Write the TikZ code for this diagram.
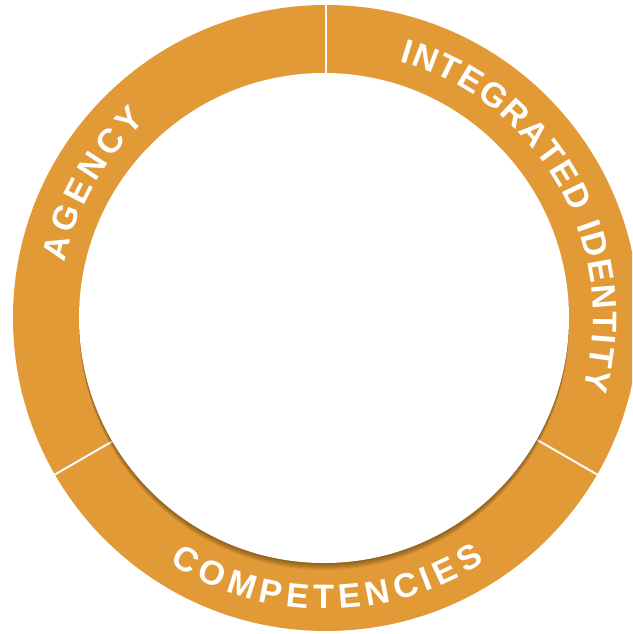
\documentclass[tikz,border=0pt]{standalone}
\usepackage{fontspec}
\setmainfont{Liberation Sans}
\newfontfamily\ringfont{Liberation Sans Bold}
\usetikzlibrary{decorations.text}
\definecolor{ringorange}{RGB}{226,154,54}
\begin{document}
\begin{tikzpicture}[x=1pt,y=1pt,
  ringtext/.style={decorate, decoration={text along path, text align={fit to path}, text color=white,
     text={|\ringfont\fontsize{34}{34}\selectfont|#1}}},
  divider/.style={draw=white!95!gray, line width=2pt}]
\useasboundingbox (-326,-316) rectangle (306,318);
\clip (-326,-316) rectangle (306,318);
\fill[white] (-326,-316) rectangle (306,318);
% ring
\fill[ringorange] (0,0) circle[radius=313];
% dividers
\draw[divider] (90:244) -- (90:314);
\draw[divider] (210:244) -- (210:314);
\draw[divider] (330:244) -- (330:314);
% shadow of the inner disc
\foreach \d in {1,...,7}
  \fill[black,opacity=0.06] (-2,-\d) circle[radius=245];
\fill[white] (-2,0) circle[radius=245];
% labels
\path[ringtext={AGENCY}] (168:267) arc[start angle=168, end angle=132.5, radius=267];
\path[ringtext={INTEGRATED IDENTITY}] (74:267) arc[start angle=74, end angle=-15.5, radius=267];
\path[ringtext={COMPETENCIES}] (237.5:291) arc[start angle=237.5, end angle=303, radius=291];
\end{tikzpicture}
\end{document}
